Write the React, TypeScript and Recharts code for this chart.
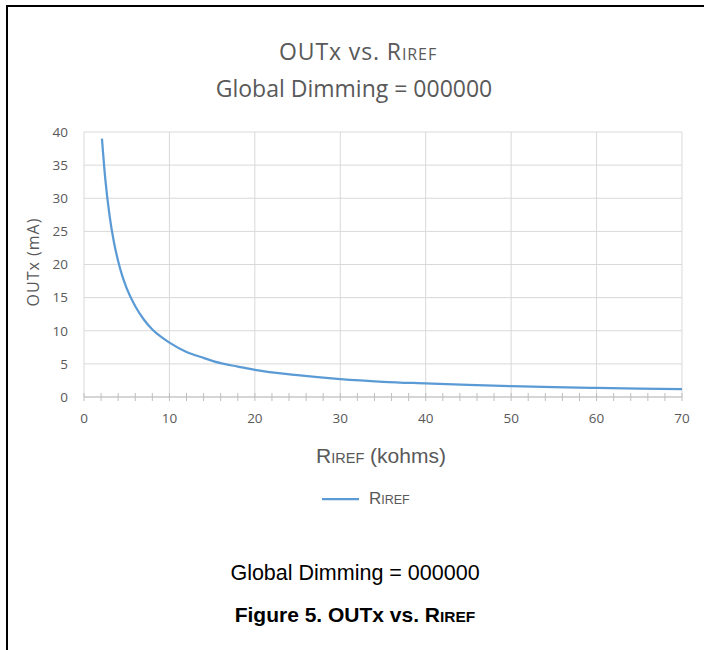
import React from 'react';
import { LineChart, Line, XAxis, YAxis, CartesianGrid, ReferenceLine } from 'recharts';

const rirefKohms = [2.1, 2.5, 3, 3.5, 4, 4.5, 5, 6, 7, 8, 9, 10, 12, 14, 16, 18, 20, 25, 30, 35, 40, 45, 50, 55, 60, 65, 70];
const outxMa = [39, 32.8, 27.3, 23.4, 20.5, 18.2, 16.4, 13.7, 11.7, 10.2, 9.1, 8.2, 6.8, 5.9, 5.1, 4.6, 4.1, 3.3, 2.7, 2.3, 2.05, 1.82, 1.64, 1.49, 1.37, 1.26, 1.17];
const xTicks = [0, 2, 4, 6, 8, 10, 12, 14, 16, 18, 20, 22, 24, 26, 28, 30, 32, 34, 36, 38, 40, 42, 44, 46, 48, 50, 52, 54, 56, 58, 60, 62, 64, 66, 68, 70];
const xMajorTicks = [0, 10, 20, 30, 40, 50, 60, 70];
const yTicks = [0, 5, 10, 15, 20, 25, 30, 35, 40];

const data = rirefKohms.map((r, i) => ({ r, outx: outxMa[i] }));

const GRID = '#D9D9D9';
const AXIS = '#BFBFBF';
const TEXT = '#595959';
const TICK_FONT = '"Open Sans", sans-serif';
const ARIAL = '"Liberation Sans", Arial, sans-serif';

const XTick = (props: any) => {
  const { x, y, payload } = props;
  const v = payload.value;
  const isMajor = v % 10 === 0;
  return (
    <g>
      <line x1={x} x2={x} y1={y - 4} y2={y + 4} stroke={AXIS} strokeWidth={1} />
      {isMajor && (
        <text x={x} y={y + 26} textAnchor="middle" fontSize={13.5} fill={TEXT} fontFamily={TICK_FONT}>
          {v}
        </text>
      )}
    </g>
  );
};

export default function App() {
  return (
    <div style={{ position: 'absolute', left: 0, top: 0, width: 704, height: 650, background: '#fff' }}>
      <div
        style={{
          position: 'absolute',
          left: 6,
          top: 5,
          width: 698,
          height: 645,
          borderTop: '2px solid #000',
          borderLeft: '2px solid #000',
          boxSizing: 'border-box',
        }}
      />
      <div style={{ position: 'absolute', left: 0, top: 0 }}>
        <LineChart width={704} height={650} data={data} margin={{ top: 132, right: 22, bottom: 223, left: 44 }}>
          <CartesianGrid vertical={false} stroke={GRID} strokeWidth={1} />
          {xMajorTicks.map((v) => (
            <ReferenceLine key={v} x={v} stroke={GRID} strokeWidth={1} />
          ))}
          <XAxis
            type="number"
            dataKey="r"
            domain={[0, 70]}
            ticks={xTicks}
            interval={0}
            height={30}
            tickSize={0}
            tickMargin={0}
            tickLine={false}
            axisLine={{ stroke: AXIS, strokeWidth: 1 }}
            tick={<XTick />}
          />
          <YAxis
            type="number"
            domain={[0, 40]}
            ticks={yTicks}
            width={40}
            tickSize={0}
            tickMargin={16}
            tickLine={false}
            axisLine={false}
            tick={{ fontSize: 13.5, fill: TEXT, fontFamily: TICK_FONT }}
          />
          <Line
            type="monotone"
            dataKey="outx"
            stroke="#5B9BD5"
            strokeWidth={2.25}
            dot={false}
            isAnimationActive={false}
          />
        </LineChart>
      </div>
      <svg
        width={704}
        height={650}
        style={{ position: 'absolute', left: 0, top: 0, pointerEvents: 'none' }}
      >
        <text x={358} y={60} textAnchor="middle" fill={TEXT} fontFamily={TICK_FONT} fontSize={23} letterSpacing={0.9}>
          OUTx vs. R<tspan fontSize={16}>IREF</tspan>
        </text>
        <text x={354} y={97} textAnchor="middle" fill={TEXT} fontFamily={TICK_FONT} fontSize={23}>
          Global Dimming = 000000
        </text>
        <text
          x={0}
          y={0}
          transform="translate(39 262) rotate(-90)"
          textAnchor="middle"
          fill={TEXT}
          fontFamily={TICK_FONT}
          fontSize={16}
          letterSpacing={1}
        >
          OUTx  (mA)
        </text>
        <text x={381} y={463} textAnchor="middle" fill={TEXT} fontFamily={ARIAL} fontSize={21}>
          R<tspan fontSize={14.5}>IREF</tspan> (kohms)
        </text>
        <line x1={322} x2={359} y1={499} y2={499} stroke="#5B9BD5" strokeWidth={2.25} />
        <text x={369} y={504} fill={TEXT} fontFamily={ARIAL} fontSize={17}>
          R<tspan fontSize={12.5}>IREF</tspan>
        </text>
        <text x={355} y={580} textAnchor="middle" fill="#000" fontFamily={ARIAL} fontSize={21.5}>
          Global Dimming = 000000
        </text>
        <text
          x={355}
          y={621.5}
          textAnchor="middle"
          fill="#000"
          fontFamily={ARIAL}
          fontSize={21}
          fontWeight="bold"
        >
          Figure 5. OUTx vs. R<tspan fontSize={15.5}>IREF</tspan>
        </text>
      </svg>
    </div>
  );
}
